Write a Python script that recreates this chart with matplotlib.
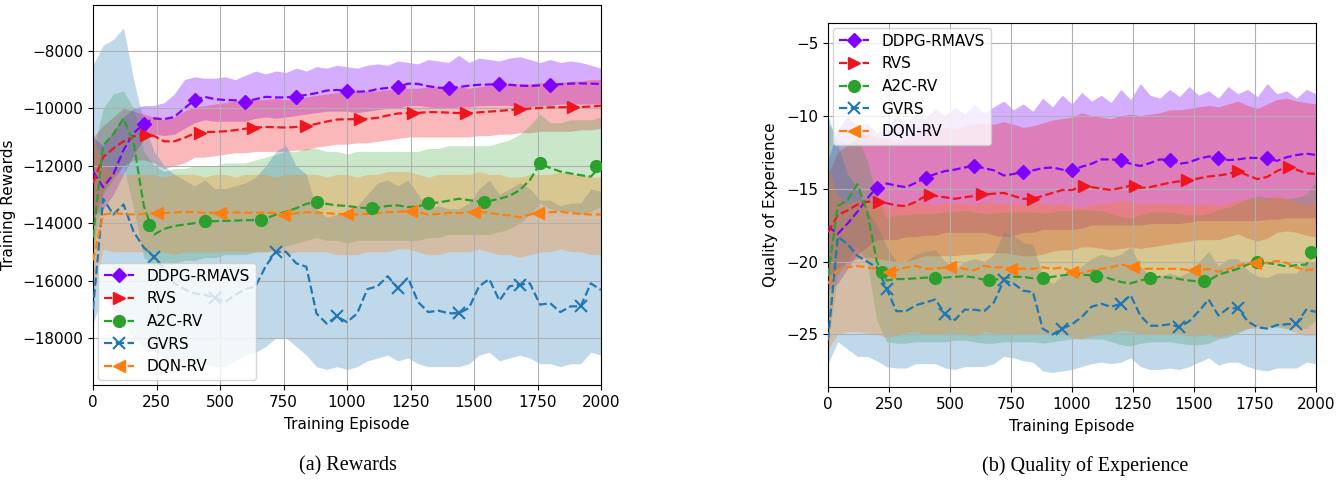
import numpy as np
import matplotlib
matplotlib.use("Agg")
import matplotlib.pyplot as plt
from matplotlib.lines import Line2D

# ---------------- data ----------------
episodes = np.arange(0, 2001, 40)
labels = ["DDPG-RMAVS", "RVS", "A2C-RV", "GVRS", "DQN-RV"]
colors = ["#7f00ff", "#f0141e", "#2ca02c", "#1f77b4", "#ff7f0e"]
markers = ["D", ">", "o", "x", "<"]

# marker episodes per algorithm
mk_ddpg = np.arange(200, 1801, 200)
mk_rvs = np.arange(210, 1891, 210)
mk_a2c = np.arange(220, 1981, 220)
mk_gvrs = np.arange(240, 1921, 240)
mk_dqn = np.arange(250, 1751, 250)

# ----- (a) rewards : smoothed curves -----
rew_ddpg = [-12200, -12750, -12300, -11450, -10860, -10540, -10350, -10380, -10300, -10000,
            -9710, -9600, -9680, -9710, -9720, -9770, -9680, -9600, -9620, -9620,
            -9590, -9530, -9470, -9380, -9360, -9390, -9420, -9410, -9330, -9290,
            -9265, -9140, -9150, -9230, -9280, -9300, -9260, -9210, -9180, -9170,
            -9150, -9180, -9210, -9220, -9200, -9185, -9160, -9140, -9130, -9140,
            -9150]
rew_rvs = [-12600, -11700, -11400, -11150, -10980, -10920, -10960, -11150, -11150, -11030,
           -10870, -10830, -10820, -10800, -10760, -10710, -10670, -10650, -10660, -10670,
           -10650, -10615, -10540, -10460, -10390, -10380, -10380, -10370, -10330, -10250,
           -10180, -10170, -10160, -10130, -10135, -10150, -10165, -10170, -10140, -10115,
           -10090, -10060, -10030, -10010, -9985, -9965, -9962, -9962, -9955, -9935,
           -9915]
rew_a2c = [-14500, -11300, -10900, -10350, -11200, -13400, -14400, -14200, -14100, -14050,
           -14000, -13950, -13930, -13920, -13910, -13900, -13890, -13850, -13700, -13600,
           -13480, -13330, -13260, -13330, -13380, -13400, -13450, -13480, -13460, -13400,
           -13380, -13440, -13420, -13310, -13280, -13220, -13150, -13200, -13250, -13230,
           -13150, -13050, -12850, -12500, -11920, -12080, -12200, -12270, -12330, -12380,
           -12000]
rew_gvrs = [-17000, -13150, -13700, -13350, -14300, -14850, -15170, -15600, -16100, -16300,
            -16450, -16500, -16600, -16750, -16500, -16300, -16200, -15500, -15000, -15000,
            -15400, -15520, -17150, -17500, -17250, -17450, -17150, -16300, -16200, -15850,
            -16260, -15900, -16750, -17100, -17050, -17140, -17140, -16960, -16200, -15950,
            -16700, -16200, -16150, -16100, -16840, -16790, -17100, -16900, -16900, -16100,
            -16330]
rew_dqn = [-15300, -13700, -13650, -13680, -13700, -13680, -13660, -13650, -13630, -13610,
           -13620, -13640, -13640, -13630, -13630, -13640, -13640, -13630, -13650, -13690,
           -13660, -13620, -13630, -13650, -13680, -13690, -13700, -13680, -13650, -13620,
           -13600, -13580, -13620, -13700, -13680, -13640, -13650, -13620, -13600, -13640,
           -13700, -13730, -13800, -13700, -13650, -13620, -13600, -13650, -13680, -13700,
           -13700]

# marker values (a)
rew_mk_ddpg = [-10540, -9710, -9770, -9590, -9390, -9265, -9300, -9150, -9185]
rew_mk_rvs = [-10930, -10850, -10675, -10615, -10380, -10170, -10170, -10030, -9962]
rew_mk_a2c = [-14060, -13940, -13890, -13260, -13480, -13310, -13250, -11910, -12000]
rew_mk_gvrs = [-15170, -16600, -14990, -17250, -16260, -17140, -16150, -16900]
rew_mk_dqn = [-13660, -13630, -13700, -13680, -13580, -13620, -13640]

# raw-episode spread (a): upper / lower edges
rew_ddpg_hi = [-11000, -11300, -10800, -10300, -10000, -9900, -9900, -9800, -9500, -9000,
               -8900, -8950, -8950, -8900, -9000, -8850, -8700, -8800, -8700, -8750,
               -8600, -8700, -8550, -8600, -8500, -8550, -8600, -8500, -8450, -8500,
               -8350, -8400, -8450, -8300, -8350, -8400, -8150, -8400, -8250, -8300,
               -8350, -8250, -8200, -8300, -8400, -8300, -8400, -8350, -8400, -8500,
               -8600]
rew_ddpg_lo = [-13800, -13500, -13000, -12300, -11600, -11100, -10900, -10950, -10900, -10700,
               -10500, -10400, -10450, -10450, -10450, -10450, -10350, -10300, -10350, -10300,
               -10250, -10200, -10150, -10100, -10100, -10100, -10150, -10100, -10050, -10000,
               -10000, -9900, -9900, -9950, -10000, -10000, -9950, -9950, -9900, -9900,
               -9900, -9900, -9950, -9950, -9900, -9900, -9850, -9850, -9850, -9850,
               -9850]
rew_rvs_hi = [-11000, -10600, -10300, -10000, -10100, -10200, -10300, -10400, -10300, -10100,
              -9950, -9900, -9850, -9800, -9750, -9700, -9700, -9700, -9650, -9700,
              -9650, -9600, -9550, -9500, -9450, -9450, -9400, -9400, -9400, -9350,
              -9300, -9300, -9300, -9250, -9250, -9300, -9250, -9300, -9250, -9200,
              -9200, -9150, -9150, -9150, -9100, -9100, -9100, -9050, -9050, -9000,
              -9000]
rew_rvs_lo = [-14000, -12900, -12400, -12000, -11800, -11800, -11900, -12100, -12000, -11900,
              -11700, -11700, -11650, -11600, -11550, -11550, -11500, -11500, -11500, -11500,
              -11450, -11450, -11350, -11300, -11250, -11250, -11200, -11200, -11150, -11100,
              -11050, -11000, -11000, -11000, -11000, -11000, -11000, -11000, -10950, -10950,
              -10900, -10900, -10850, -10850, -10800, -10800, -10800, -10800, -10750, -10750,
              -10700]
rew_a2c_hi = [-11500, -10000, -9500, -9400, -10000, -11500, -12000, -12200, -12100, -12100,
              -12000, -12000, -12000, -11900, -11900, -11900, -11800, -11700, -11600, -11500,
              -11500, -11400, -11400, -11500, -11500, -11600, -11500, -11500, -11500, -11500,
              -11500, -11500, -11500, -11400, -11400, -11300, -11300, -11300, -11300, -11300,
              -11200, -11100, -10900, -10600, -10200, -10500, -10500, -10400, -10400, -10400,
              -10300]
rew_a2c_lo = [-15000, -13000, -12500, -12000, -13500, -15200, -15500, -15500, -15400, -15300,
              -15300, -15200, -15200, -15100, -15100, -15100, -15000, -15000, -14900, -14800,
              -14700, -14600, -14500, -14600, -14600, -14700, -14600, -14600, -14600, -14600,
              -14600, -14600, -14600, -14500, -14500, -14400, -14400, -14400, -14400, -14400,
              -14300, -14200, -14000, -13700, -13300, -13500, -13600, -13600, -13700, -13600,
              -13400]
rew_gvrs_hi = [-8500, -7800, -7600, -7200, -9000, -10500, -11500, -12000, -12300, -12500,
               -12700, -12500, -12800, -12800, -12700, -12600, -12400, -12000, -11500, -11300,
               -12000, -12300, -13500, -13800, -13700, -13700, -13400, -13000, -12600, -12500,
               -12700, -12500, -13000, -13500, -13400, -13500, -13500, -13300, -12800, -12500,
               -13000, -12800, -12600, -12800, -13200, -13200, -13400, -13300, -13300, -12800,
               -12900]
rew_gvrs_lo = [-17500, -16500, -17000, -17500, -18000, -18300, -18500, -18700, -18800, -18800,
               -18900, -18900, -19000, -19000, -18800, -18600, -18500, -18300, -18000, -18000,
               -18300, -18600, -19000, -19100, -19000, -19100, -19000, -18800, -18700, -18600,
               -18800, -18700, -18900, -19000, -19000, -19000, -19000, -18900, -18600, -18500,
               -18800, -18700, -18600, -18700, -18900, -18900, -19000, -18900, -18900, -18500,
               -18600]
rew_dqn_hi = [-11000, -12000, -12200, -12300, -12300, -12300, -12300, -12400, -12300, -12300,
              -12300, -12400, -12300, -12300, -12400, -12300, -12300, -12300, -12400, -12300,
              -12300, -12300, -12300, -12400, -12300, -12300, -12400, -12300, -12300, -12200,
              -12200, -12200, -12300, -12400, -12300, -12300, -12300, -12300, -12200, -12300,
              -12300, -12400, -12400, -12300, -12300, -12300, -12200, -12300, -12300, -12400,
              -12400]
rew_dqn_lo = [-16500, -14900, -15000, -15000, -15000, -15000, -15000, -15000, -15100, -15000,
              -15000, -15000, -15000, -15000, -15000, -15000, -15000, -15000, -15000, -15100,
              -15000, -15000, -15000, -15000, -15100, -15100, -15100, -15000, -15000, -15000,
              -14900, -14900, -15000, -15100, -15100, -15000, -15000, -15000, -14900, -15000,
              -15100, -15100, -15200, -15100, -15000, -15000, -14900, -15000, -15000, -15100,
              -15100]

# ----- (b) quality of experience : smoothed curves -----
qoe_ddpg = [-17.6, -18.1, -17.4, -16.6, -15.7, -14.9, -14.65, -14.8, -14.9, -14.6,
            -14.25, -14.0, -13.8, -13.7, -13.55, -13.45, -13.6, -13.75, -14.1, -14.0,
            -13.85, -13.75, -13.6, -13.55, -13.7, -13.75, -13.5, -13.3, -13.0, -13.0,
            -13.05, -13.3, -13.45, -13.25, -13.0, -13.05, -13.3, -13.2, -12.95, -12.8,
            -12.85, -13.05, -13.0, -12.9, -12.9, -12.92, -13.1, -12.85, -12.7, -12.6,
            -12.7]
qoe_rvs = [-18.0, -16.8, -16.5, -16.1, -15.9, -15.9, -16.0, -16.15, -16.2, -15.9,
           -15.5, -15.5, -15.6, -15.7, -15.6, -15.5, -15.4, -15.35, -15.3, -15.5,
           -15.7, -15.7, -15.5, -15.3, -15.1, -15.1, -14.85, -14.9, -15.0, -15.1,
           -14.95, -14.8, -14.95, -14.9, -14.75, -14.6, -14.5, -14.44, -14.3, -14.17,
           -14.1, -14.0, -13.8, -14.1, -14.35, -14.2, -13.8, -13.5, -13.7, -13.95,
           -14.0]
qoe_a2c = [-21.0, -16.2, -15.8, -14.7, -16.5, -20.0, -21.3, -21.2, -21.2, -21.15,
           -21.1, -21.15, -21.1, -21.05, -21.0, -21.1, -21.25, -21.25, -21.15, -21.05,
           -21.05, -21.15, -21.15, -21.05, -20.95, -20.85, -20.9, -20.95, -20.98, -21.2,
           -21.4, -21.5, -21.3, -21.12, -21.05, -21.1, -21.2, -21.3, -21.37, -21.3,
           -20.9, -20.7, -20.5, -20.2, -20.02, -20.1, -20.2, -20.34, -20.25, -20.2,
           -19.3]
qoe_gvrs = [-25.4, -18.3, -18.8, -19.6, -20.0, -20.4, -21.85, -23.4, -23.4, -23.0,
            -22.8, -22.6, -23.6, -24.0, -23.3, -23.3, -23.4, -22.8, -21.3, -21.5,
            -22.0, -22.1, -24.6, -25.0, -24.6, -24.3, -23.8, -23.1, -22.9, -23.1,
            -22.9, -22.3, -23.7, -24.4, -24.4, -24.3, -24.5, -24.1, -23.4, -22.6,
            -23.7, -23.2, -23.2, -24.1, -24.5, -24.6, -24.35, -24.3, -24.25, -23.3,
            -23.45]
qoe_dqn = [-21.5, -20.6, -20.4, -20.3, -20.4, -20.5, -20.7, -20.6, -20.4, -20.3,
           -20.5, -20.5, -20.4, -20.4, -20.5, -20.6, -20.3, -20.4, -20.4, -20.5,
           -20.5, -20.5, -20.4, -20.5, -20.4, -20.7, -20.8, -20.6, -20.5, -20.4,
           -20.2, -20.35, -20.5, -20.5, -20.5, -20.5, -20.5, -20.6, -20.6, -20.5,
           -20.7, -20.5, -20.3, -20.1, -20.1, -20.1, -19.95, -20.1, -20.4, -20.6,
           -20.5]

# marker values (b)
qoe_mk_ddpg = [-14.93, -14.25, -13.45, -13.86, -13.74, -13.05, -13.05, -12.88, -12.93]
qoe_mk_rvs = [-15.9, -15.45, -15.4, -15.7, -14.8, -14.8, -14.44, -13.78, -13.5]
qoe_mk_a2c = [-20.69, -21.16, -21.28, -21.16, -20.96, -21.13, -21.36, -20.02, -19.32]
qoe_mk_gvrs = [-21.85, -23.6, -21.3, -24.6, -22.9, -24.5, -23.2, -24.25]
qoe_mk_dqn = [-20.7, -20.37, -20.48, -20.7, -20.37, -20.55, -20.1]

# raw-episode spread (b)
qoe_ddpg_hi = [-13.0, -11.0, -10.0, -10.8, -10.5, -11.2, -10.8, -10.0, -10.6, -9.8,
               -10.2, -9.5, -10.0, -9.4, -9.9, -9.2, -9.8, -9.4, -9.0, -9.6,
               -9.2, -9.7, -8.8, -9.4, -8.6, -9.2, -8.4, -9.0, -8.6, -9.1,
               -8.2, -8.9, -7.8, -8.6, -8.8, -8.2, -8.7, -8.0, -8.6, -8.3,
               -8.8, -8.0, -8.5, -8.2, -8.7, -7.8, -8.5, -8.3, -8.8, -8.2,
               -8.5]
qoe_ddpg_lo = [-22.0, -21.5, -20.5, -19.5, -19.0, -18.5, -18.5, -18.5, -18.3, -18.3,
               -18.2, -18.2, -18.0, -18.0, -18.0, -18.0, -18.0, -18.2, -18.3, -18.2,
               -18.0, -18.0, -17.8, -17.8, -17.8, -17.8, -17.7, -17.5, -17.5, -17.5,
               -17.5, -17.5, -17.5, -17.4, -17.4, -17.4, -17.4, -17.3, -17.2, -17.2,
               -17.2, -17.2, -17.2, -17.2, -17.2, -17.1, -17.1, -17.0, -17.0, -17.0,
               -17.0]
qoe_rvs_hi = [-14.0, -12.5, -12.0, -11.5, -11.2, -11.5, -11.5, -11.8, -11.6, -11.2,
              -10.8, -10.9, -10.8, -10.9, -10.7, -10.6, -10.5, -10.6, -10.4, -10.6,
              -10.8, -10.7, -10.5, -10.3, -10.2, -10.1, -9.8, -10.0, -10.1, -10.2,
              -10.0, -9.9, -10.0, -9.9, -9.8, -9.6, -9.6, -9.5, -9.4, -9.3,
              -9.4, -9.2, -9.0, -9.3, -9.5, -9.2, -8.9, -8.8, -9.0, -9.1,
              -9.2]
qoe_rvs_lo = [-21.0, -20.5, -20.0, -19.8, -19.7, -19.8, -19.9, -20.0, -20.0, -19.8,
              -19.6, -19.6, -19.6, -19.6, -19.5, -19.5, -19.4, -19.4, -19.4, -19.5,
              -19.6, -19.6, -19.5, -19.3, -19.2, -19.2, -19.0, -19.0, -19.1, -19.2,
              -19.1, -19.0, -19.1, -19.0, -18.9, -18.8, -18.7, -18.6, -18.5, -18.5,
              -18.5, -18.3, -18.1, -18.4, -18.6, -18.4, -18.0, -17.9, -18.0, -18.2,
              -18.3]
qoe_a2c_hi = [-10.5, -11.5, -12.0, -11.5, -13.0, -15.5, -17.0, -16.8, -16.8, -16.7,
              -16.7, -16.7, -16.6, -16.6, -16.5, -16.6, -16.7, -16.7, -16.6, -16.6,
              -16.6, -16.6, -16.7, -16.6, -16.5, -16.5, -16.4, -16.5, -16.5, -16.7,
              -16.9, -17.0, -16.8, -16.6, -16.6, -16.6, -16.7, -16.8, -16.8, -16.7,
              -16.4, -16.3, -16.0, -15.7, -15.5, -15.6, -15.6, -15.7, -15.6, -15.4,
              -14.5]
qoe_a2c_lo = [-25.5, -21.0, -20.0, -19.0, -20.0, -24.0, -25.5, -25.6, -25.6, -25.5,
              -25.5, -25.5, -25.5, -25.4, -25.4, -25.5, -25.6, -25.6, -25.5, -25.5,
              -25.5, -25.5, -25.6, -25.5, -25.4, -25.3, -25.3, -25.3, -25.3, -25.5,
              -25.7, -25.8, -25.6, -25.5, -25.5, -25.5, -25.6, -25.7, -25.7, -25.6,
              -25.3, -25.2, -24.9, -24.6, -24.4, -24.5, -24.5, -24.6, -24.5, -24.6,
              -24.0]
qoe_gvrs_hi = [-10.0, -12.0, -14.0, -15.0, -16.5, -17.5, -19.0, -20.0, -20.0, -19.5,
               -19.3, -19.2, -20.0, -20.5, -20.0, -19.8, -20.0, -19.5, -18.0, -18.2,
               -18.7, -18.8, -21.0, -21.5, -21.0, -20.8, -20.3, -19.8, -19.5, -19.7,
               -19.5, -19.0, -20.3, -21.0, -21.0, -20.8, -21.0, -20.7, -20.0, -19.3,
               -20.3, -19.8, -19.8, -20.6, -21.0, -21.1, -20.8, -20.8, -20.8, -20.0,
               -20.0]
qoe_gvrs_lo = [-27.0, -25.5, -26.0, -26.5, -26.5, -26.8, -27.2, -27.3, -27.3, -27.0,
               -27.0, -27.0, -27.3, -27.4, -27.2, -27.2, -27.2, -27.0, -26.5, -26.6,
               -26.8, -26.9, -27.5, -27.6, -27.5, -27.4, -27.2, -27.0, -26.9, -27.0,
               -26.9, -26.6, -27.2, -27.4, -27.4, -27.3, -27.4, -27.2, -26.9, -26.6,
               -27.1, -26.9, -26.9, -27.2, -27.4, -27.5, -27.3, -27.3, -27.3, -26.9,
               -27.0]
qoe_dqn_hi = [-13.5, -15.5, -16.0, -15.8, -16.0, -16.0, -16.3, -16.2, -16.0, -15.9,
              -16.0, -16.1, -16.0, -16.0, -16.0, -16.1, -15.9, -16.0, -16.0, -16.0,
              -16.1, -16.0, -16.0, -16.1, -16.0, -16.2, -16.3, -16.1, -16.0, -16.0,
              -15.8, -15.9, -16.0, -16.0, -16.0, -16.0, -16.0, -16.1, -16.1, -16.0,
              -16.2, -16.0, -15.8, -15.7, -15.7, -15.7, -15.5, -15.7, -15.9, -16.1,
              -16.0]
qoe_dqn_lo = [-26.0, -25.0, -24.8, -24.8, -24.9, -25.0, -25.2, -25.1, -24.9, -24.8,
              -25.0, -25.0, -24.9, -24.9, -25.0, -25.1, -24.8, -24.9, -24.9, -25.0,
              -25.0, -25.0, -24.9, -25.0, -24.9, -25.2, -25.3, -25.1, -25.0, -24.9,
              -24.7, -24.8, -25.0, -25.0, -25.0, -25.0, -25.0, -25.1, -25.1, -25.0,
              -25.2, -25.0, -24.8, -24.6, -24.6, -24.6, -24.4, -24.6, -24.9, -25.1,
              -25.0]

# ---------------- plotting ----------------
plt.rcParams["font.family"] = ["DejaVu Sans"]
FS = 11
fig = plt.figure(figsize=(13.43, 4.8), dpi=100)
ax1 = fig.add_axes([93 / 1343, 95 / 480, 508 / 1343, 380 / 480])
ax2 = fig.add_axes([828 / 1343, 93 / 480, 488 / 1343, 364 / 480])

mk_x = [mk_ddpg, mk_rvs, mk_a2c, mk_gvrs, mk_dqn]

panels = [
    (ax1,
     [rew_ddpg, rew_rvs, rew_a2c, rew_gvrs, rew_dqn],
     [rew_mk_ddpg, rew_mk_rvs, rew_mk_a2c, rew_mk_gvrs, rew_mk_dqn],
     [(rew_ddpg_lo, rew_ddpg_hi), (rew_rvs_lo, rew_rvs_hi), (rew_a2c_lo, rew_a2c_hi),
      (rew_gvrs_lo, rew_gvrs_hi), (rew_dqn_lo, rew_dqn_hi)]),
    (ax2,
     [qoe_ddpg, qoe_rvs, qoe_a2c, qoe_gvrs, qoe_dqn],
     [qoe_mk_ddpg, qoe_mk_rvs, qoe_mk_a2c, qoe_mk_gvrs, qoe_mk_dqn],
     [(qoe_ddpg_lo, qoe_ddpg_hi), (qoe_rvs_lo, qoe_rvs_hi), (qoe_a2c_lo, qoe_a2c_hi),
      (qoe_gvrs_lo, qoe_gvrs_hi), (qoe_dqn_lo, qoe_dqn_hi)]),
]

raw_alpha = [0.32, 0.30, 0.25, 0.28, 0.30]
for ax, curves, mvals, spreads in panels:
    for i in range(5):
        lo, hi = spreads[i]
        ax.fill_between(episodes, lo, hi, color=colors[i], alpha=raw_alpha[i],
                        linewidth=0, zorder=1)
    for i in range(5):
        ax.plot(episodes, curves[i], color=colors[i], ls="--", lw=1.6, zorder=3)
        ms = 7.5 if markers[i] == "D" else 8.5
        ax.plot(mk_x[i], mvals[i], color=colors[i], ls="none", marker=markers[i],
                markersize=ms, markeredgewidth=1.5 if markers[i] == "x" else 1.0, zorder=4)
    ax.set_xlim(0, 2000)
    ax.set_xticks([0, 250, 500, 750, 1000, 1250, 1500, 1750, 2000])
    ax.grid(True, color="#b0b0b0", lw=0.8)
    ax.tick_params(labelsize=FS)
    ax.set_xlabel("Training Episode", fontsize=FS, labelpad=5)

handles = [Line2D([], [], color=colors[i], ls="--", lw=1.6, marker=markers[i],
                  markersize=(7.5 if markers[i] == "D" else 8.5),
                  markeredgewidth=1.5 if markers[i] == "x" else 1.0)
           for i in range(5)]

ax1.set_ylim(-19640, -6400)
ax1.set_yticks([-18000, -16000, -14000, -12000, -10000, -8000])
ax1.legend(handles, labels, loc="lower left", fontsize=FS, framealpha=0.8,
           borderaxespad=0.3)
fig.text(9 / 1343, 1 - 205 / 480, "Training Rewards", rotation=90, ha="center",
         va="center", fontsize=FS)

ax2.set_ylim(-28.6, -3.65)
ax2.set_yticks([-25, -20, -15, -10, -5])
ax2.set_ylabel("Quality of Experience", fontsize=FS, labelpad=6)
ax2.legend(handles, labels, loc="upper left", fontsize=FS, framealpha=0.8,
           borderaxespad=0.3)

fig.text(348 / 1343, 1 - 466 / 480, "(a) Rewards", ha="center", va="center",
         fontsize=14.5, family="Liberation Serif")
fig.text(1085 / 1343, 1 - 466 / 480, "(b) Quality of Experience", ha="center",
         va="center", fontsize=14.5, family="Liberation Serif")

fig.savefig("out.png", dpi=100)
